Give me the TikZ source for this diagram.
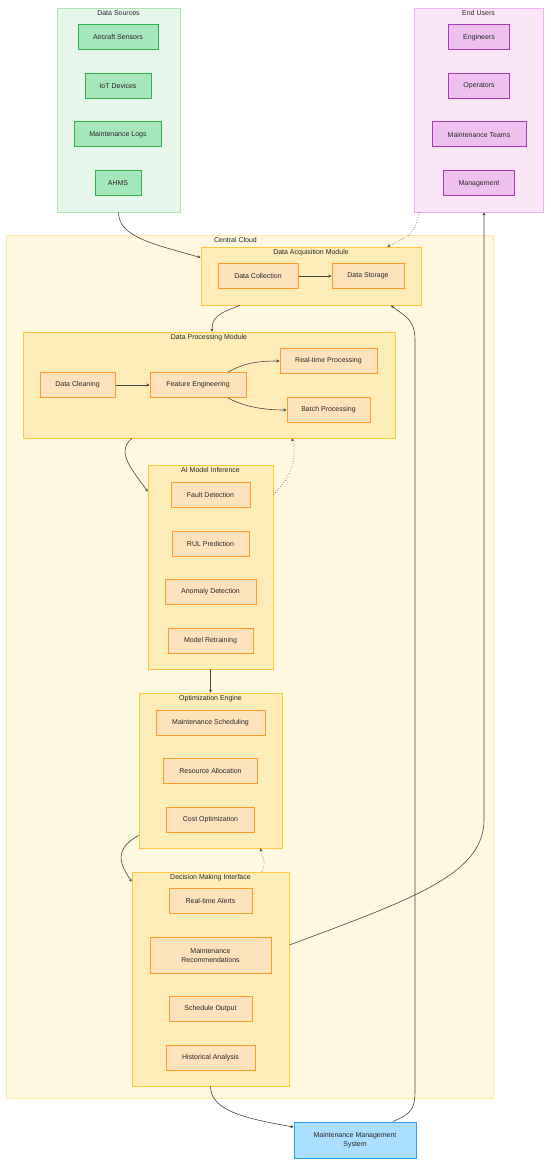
\documentclass[tikz,border=0pt]{standalone}
\usepackage{fontspec}
\setmainfont{Liberation Sans}
\usepackage{xcolor}
\usetikzlibrary{arrows.meta,calc,positioning}
\definecolor{srcbg}{HTML}{E6F6EA}
\definecolor{srcedge}{HTML}{A8E6B8}
\definecolor{srcfill}{HTML}{A5E6BB}
\definecolor{srcline}{HTML}{2DB34A}
\definecolor{usrbg}{HTML}{FAE6F7}
\definecolor{usredge}{HTML}{EEB0EE}
\definecolor{usrfill}{HTML}{EFC0EF}
\definecolor{usrline}{HTML}{A93BB5}
\definecolor{cloudbg}{HTML}{FFF8E0}
\definecolor{cloudedge}{HTML}{FDE9A8}
\definecolor{modbg}{HTML}{FFEDB8}
\definecolor{modedge}{HTML}{FFC73B}
\definecolor{taskfill}{HTML}{FDE2BB}
\definecolor{taskline}{HTML}{FF9C2A}
\definecolor{mmsfill}{HTML}{AADFFF}
\definecolor{mmsline}{HTML}{2F9BF0}
\definecolor{wire}{HTML}{444444}

\begin{document}
\begin{tikzpicture}[x=1pt, y=-1pt,
    every node/.style={font=\fontsize{7}{9}\selectfont, text=black!85},
    group/.style={draw, line width=0.8pt, inner sep=0pt},
    box/.style={draw, line width=1pt, minimum height=25pt, inner sep=2pt, align=center},
    srcnode/.style={box, fill=srcfill, draw=srcline},
    usrnode/.style={box, fill=usrfill, draw=usrline},
    task/.style={box, fill=taskfill, draw=taskline},
    title/.style={anchor=north, inner sep=0pt, yshift=-3pt},
    flow/.style={-{Stealth[length=3pt,width=3pt]}, line width=0.6pt, wire},
    flowdot/.style={flow, dotted}
]

% Canvas
\useasboundingbox (0,0) rectangle (550,1166);

% Data Sources
\node[group, fill=srcbg, draw=srcedge, minimum width=123pt, minimum height=204pt,
      label={[title]north:Data Sources}] (sources) at (118.5,110) {};
\node[srcnode, minimum width=80pt] (sensors) at (118,37.5) {Aircraft Sensors};
\node[srcnode, minimum width=66pt] (iot) at (118,86) {IoT Devices};
\node[srcnode, minimum width=87pt] (logs) at (118,134.5) {Maintenance Logs};
\node[srcnode, minimum width=46pt] (ahms) at (118,183.5) {AHMS};

% End Users
\node[group, fill=usrbg, draw=usredge, minimum width=129pt, minimum height=204pt,
      label={[title]north:End Users}] (users) at (478.5,110) {};
\node[usrnode, minimum width=61pt] (engineers) at (479,37.5) {Engineers};
\node[usrnode, minimum width=61pt] (operators) at (479,86) {Operators};
\node[usrnode, minimum width=94pt] (teams) at (479,134.5) {Maintenance Teams};
\node[usrnode, minimum width=71pt] (management) at (479,183.5) {Management};

% Central Cloud
\node[group, fill=cloudbg, draw=cloudedge, minimum width=487pt, minimum height=863pt,
      label={[title, xshift=-14pt]north:Central Cloud}] (cloud) at (249.5,666.5) {};

% Data Acquisition Module
\node[group, fill=modbg, draw=modedge, minimum width=220pt, minimum height=58pt,
      label={[title]north:Data Acquisition Module}] (dam) at (311,276) {};
\node[task, minimum width=80pt] (collect) at (258,276) {Data Collection};
\node[task, minimum width=72pt] (storage) at (368,276) {Data Storage};

% Data Processing Module
\node[group, fill=modbg, draw=modedge, minimum width=372pt, minimum height=106pt,
      label={[title]north:Data Processing Module}] (dpm) at (209,385) {};
\node[task, minimum width=75pt] (cleaning) at (77.5,385) {Data Cleaning};
\node[task, minimum width=96pt] (features) at (198,385) {Feature Engineering};
\node[task, minimum width=97pt] (realtime) at (328.5,361) {Real-time Processing};
\node[task, minimum width=83pt] (batch) at (328.5,410) {Batch Processing};

% AI Model Inference
\node[group, fill=modbg, draw=modedge, minimum width=125pt, minimum height=204pt,
      label={[title]north:AI Model Inference}] (aim) at (210.5,567) {};
\node[task, minimum width=79pt] (fault) at (210.5,494.5) {Fault Detection};
\node[task, minimum width=77pt] (rul) at (210.5,543.5) {RUL Prediction};
\node[task, minimum width=91pt] (anomaly) at (210.5,592) {Anomaly Detection};
\node[task, minimum width=85pt] (retrain) at (210.5,640.5) {Model Retraining};

% Optimization Engine
\node[group, fill=modbg, draw=modedge, minimum width=143pt, minimum height=155pt,
      label={[title]north:Optimization Engine}] (opt) at (210.5,770.5) {};
\node[task, minimum width=109pt] (scheduling) at (210.5,722.5) {Maintenance Scheduling};
\node[task, minimum width=94pt] (resources) at (210.5,771) {Resource Allocation};
\node[task, minimum width=88pt] (cost) at (210.5,819.5) {Cost Optimization};

% Decision Making Interface
\node[group, fill=modbg, draw=modedge, minimum width=157pt, minimum height=214pt,
      label={[title]north:Decision Making Interface}] (dmi) at (210.5,979) {};
\node[task, minimum width=83pt] (alerts) at (210.5,900.5) {Real-time Alerts};
\node[task, minimum width=121pt, minimum height=36pt] (recommend) at (210.5,955) {Maintenance\\Recommendations};
\node[task, minimum width=83pt] (schedout) at (210.5,1009) {Schedule Output};
\node[task, minimum width=89pt] (history) at (210.5,1057.5) {Historical Analysis};

% Maintenance Management System
\node[box, fill=mmsfill, draw=mmsline, minimum width=122pt, minimum height=36pt] (mms) at (355,1140) {Maintenance Management\\System};

% Connectors inside modules
\draw[flow] (collect) -- (storage);
\draw[flow] (cleaning) -- (features);
\draw[flow] ([xshift=30pt]features.north) .. controls +(15,-8) and +(-25,0) .. (realtime.west);
\draw[flow] ([xshift=30pt]features.south) .. controls +(15,8) and +(-25,0) .. (batch.west);

% Connectors between groups
\draw[flow] (sources.south) .. controls +(0,25) and +(-45,-13) .. ([yshift=-11pt]dam.north west);
\draw[flowdot] ([xshift=6pt]users.south west) .. controls +(-6,22) and +(25,-12) .. ([xshift=-34pt]dam.north east);
\draw[flow] ([xshift=-71pt]dam.south) .. controls +(-22,8) and +(0,-14) .. ([xshift=3pt]dpm.north);
\draw[flow] ([xshift=-77pt]dpm.south) .. controls +(-18,14) and +(-12,-18) .. ([yshift=-27pt]aim.north west);
\draw[flowdot] ([yshift=-30pt]aim.north east) .. controls +(22,-22) and +(4,16) .. ([xshift=83pt]dpm.south);
\draw[flow] (aim.south) -- (opt.north);
\draw[flow] ([yshift=13pt]opt.south west) .. controls +(-25,14) and +(-12,-18) .. ([yshift=-10pt]dmi.north west);
\draw[flowdot] ([xshift=51.5pt]dmi.north) .. controls +(5,-10) and +(2,10) .. ([xshift=50pt]opt.south);
\draw[flow] ([yshift=34pt]dmi.east) .. controls +(120,-45) and +(0,55) .. (484,820) -- ([xshift=5.5pt]users.south);
\draw[flow] (dmi.south) .. controls +(0,25) and +(-45,-8) .. ([yshift=13pt]mms.west);
\draw[flow] ([xshift=38pt]mms.north) .. controls +(18,-8) and +(0,20) .. (415,1090) -- (415,340) .. controls +(0,-22) and +(12,10) .. ([xshift=80pt]dam.south);

\end{tikzpicture}
\end{document}
